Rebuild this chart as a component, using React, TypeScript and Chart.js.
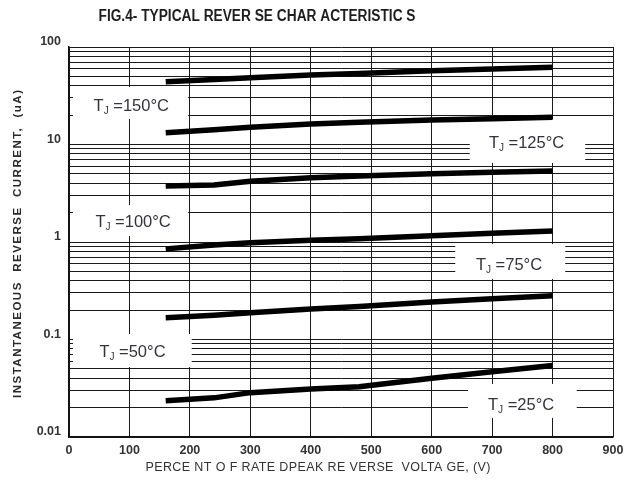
import React, { useEffect, useRef } from 'react';
import { Chart, registerables } from 'chart.js';

Chart.register(...registerables);

// ---- data ----
const VOLTAGE = [160, 240, 300, 400, 480, 600, 700, 800];
const TJ_150 = [44, 46.5, 48.5, 51.5, 53.5, 57, 59.5, 62];
const TJ_125 = [13.2, 14.2, 15, 16.2, 16.9, 17.8, 18.4, 19];
const TJ_100 = [3.75, 3.85, 4.2, 4.55, 4.75, 5.0, 5.2, 5.35];
const TJ_75 = [0.85, 0.93, 0.98, 1.04, 1.08, 1.16, 1.23, 1.3];
const TJ_50 = [0.167, 0.177, 0.188, 0.205, 0.218, 0.243, 0.262, 0.281];
const TJ_25 = [0.0236, 0.0252, 0.0285, 0.031, 0.0328, 0.04, 0.0468, 0.054];

const SERIES_NAMES = ['150°C', '125°C', '100°C', '75°C', '50°C', '25°C'];
const SERIES_VALUES = [TJ_150, TJ_125, TJ_100, TJ_75, TJ_50, TJ_25];

const X_TICKS = [0, 100, 200, 300, 400, 500, 600, 700, 800, 900];
const Y_DECADES = [0.01, 0.1, 1, 10, 100];
const Y_DECADE_LABELS = ['0.01', '0.1', '1', '10', '100'];
const Y_MULTIPLES = [1, 2, 3, 4, 5, 6, 7, 8, 9];

const TITLE = 'FIG.4- TYPICAL REVER SE CHAR ACTERISTIC S';
const X_TITLE = 'PERCE NT O F RATE DPEAK RE VERSE  VOLTA GE, (V)';
const Y_TITLE = 'INSTANTANEOUS  REVERSE  CURRENT,  (uA)';

// label placement (data units): text centre and white box [x0, x1, yTop, yBottom]
const LABEL_POS = [
  { x: 103, y: 24.8, box: [6.6, 197, 38.9, 18.3] },
  { x: 757, y: 10.3, box: [663, 854, 18.3, 6.46] },
  { x: 106, y: 1.58, box: [6.6, 197, 2.39, 1.15] },
  { x: 728, y: 0.581, box: [639, 821, 0.953, 0.418] },
  { x: 105, y: 0.0733, box: [6.6, 203, 0.1138, 0.0522] },
  { x: 748, y: 0.0213, box: [660, 840, 0.035, 0.0157] },
];

const FONT = '"Liberation Sans", Arial, sans-serif';

function fitText(ctx: CanvasRenderingContext2D, text: string, cx: number, cy: number, width: number) {
  (ctx as any).letterSpacing = '0px';
  const w = ctx.measureText(text).width;
  if (w < width && text.length > 1) {
    const ls = (width - w) / (text.length - 1);
    (ctx as any).letterSpacing = `${ls}px`;
    ctx.textAlign = 'left';
    ctx.fillText(text, cx - width / 2, cy);
  } else {
    ctx.textAlign = 'center';
    ctx.fillText(text, cx, cy, width);
  }
  (ctx as any).letterSpacing = '0px';
}

const labelPlugin = {
  id: 'tjLabels',
  beforeDatasetsDraw(chart: any) {
    const { ctx } = chart;
    const xs = chart.scales.x;
    const ys = chart.scales.y;
    ctx.save();
    LABEL_POS.forEach((l) => {
      const x0 = xs.getPixelForValue(l.box[0]);
      const x1 = xs.getPixelForValue(l.box[1]);
      const y0 = ys.getPixelForValue(l.box[2]);
      const y1 = ys.getPixelForValue(l.box[3]);
      ctx.fillStyle = '#ffffff';
      ctx.fillRect(x0, y0, x1 - x0, y1 - y0);
    });
    ctx.restore();
  },
  afterDatasetsDraw(chart: any) {
    const { ctx } = chart;
    const xs = chart.scales.x;
    const ys = chart.scales.y;
    ctx.save();
    ctx.fillStyle = '#33333d';
    ctx.textBaseline = 'middle';
    LABEL_POS.forEach((l, i) => {
      const cx = xs.getPixelForValue(l.x);
      const cy = ys.getPixelForValue(l.y);
      const big = `16.5px ${FONT}`;
      const small = `10px ${FONT}`;
      const rest = ' =' + SERIES_NAMES[i];
      ctx.font = big;
      const wT = ctx.measureText('T').width;
      const wR = ctx.measureText(rest).width;
      ctx.font = small;
      const wJ = ctx.measureText('J').width;
      const total = wT + wJ + wR;
      let px = cx - total / 2;
      ctx.textAlign = 'left';
      ctx.font = big;
      ctx.fillText('T', px, cy);
      px += wT;
      ctx.font = small;
      ctx.fillText('J', px, cy + 5);
      px += wJ;
      ctx.font = big;
      ctx.fillText(rest, px, cy);
    });
    ctx.restore();
  },
  afterDraw(chart: any) {
    const { ctx, chartArea } = chart;
    ctx.save();
    ctx.fillStyle = '#1e1e1e';
    ctx.textBaseline = 'middle';
    ctx.font = `bold 16px ${FONT}`;
    fitText(ctx, TITLE, 257, 17, 317);
    ctx.fillStyle = '#333333';
    ctx.font = `12.5px ${FONT}`;
    fitText(ctx, X_TITLE, 318, 468, 345);
    ctx.translate(18, (chartArea.top + chartArea.bottom) / 2 + 2);
    ctx.rotate(-Math.PI / 2);
    ctx.font = `bold 11.5px ${FONT}`;
    ctx.fillStyle = '#2a2a2a';
    fitText(ctx, Y_TITLE, 0, 0, 308);
    ctx.restore();
  },
};

export default function App() {
  const ref = useRef<HTMLCanvasElement | null>(null);
  useEffect(() => {
    if (!ref.current) return;
    const yGrid: number[] = [];
    Y_DECADES.forEach((d, i) => {
      if (i < Y_DECADES.length - 1) Y_MULTIPLES.forEach((m) => yGrid.push(+(d * m).toPrecision(3)));
      else yGrid.push(d);
    });
    const chart = new Chart(ref.current, {
      type: 'line',
      data: {
        labels: VOLTAGE,
        datasets: SERIES_VALUES.map((vals, i) => ({
          label: SERIES_NAMES[i],
          data: VOLTAGE.map((v, j) => ({ x: v, y: vals[j] })),
          borderColor: '#000000',
          borderWidth: 5.5,
          pointRadius: 0,
          tension: 0,
          borderCapStyle: 'butt' as const,
          borderJoinStyle: 'round' as const,
          fill: false,
        })),
      },
      options: {
        animation: false,
        responsive: false,
        layout: { padding: { left: 0, top: 47, right: 21, bottom: 0 } },
        plugins: { legend: { display: false }, tooltip: { enabled: false }, title: { display: false } },
        scales: {
          x: {
            type: 'linear',
            min: 0,
            max: 900,
            afterFit: (s: any) => { s.height = 46; },
            afterBuildTicks: (s: any) => { s.ticks = X_TICKS.map((v) => ({ value: v })); },
            grid: { color: '#1a1a1a', lineWidth: 1, drawTicks: false },
            border: { display: true, color: '#111111', width: 1.5 },
            ticks: {
              padding: 6,
              color: '#333333',
              font: { family: FONT, size: 12.5, weight: 'bold' },
              callback: (v: any) => String(v),
            },
          },
          y: {
            type: 'logarithmic',
            min: 0.01,
            max: 100,
            afterFit: (s: any) => { s.width = 69; },
            afterBuildTicks: (s: any) => { s.ticks = yGrid.map((v) => ({ value: v })); },
            grid: { color: '#1a1a1a', lineWidth: 1, drawTicks: false },
            border: { display: true, color: '#111111', width: 1.5 },
            ticks: {
              padding: 8,
              labelOffset: -5,
              autoSkip: false,
              color: '#333333',
              font: { family: FONT, size: 12.5, weight: 'bold' },
              callback: (v: any) => {
                const idx = Y_DECADES.findIndex((d) => Math.abs(d - Number(v)) < d * 1e-6);
                return idx >= 0 ? Y_DECADE_LABELS[idx] : '';
              },
            },
          },
        },
      },
      plugins: [labelPlugin],
    } as any);
    return () => chart.destroy();
  }, []);
  return (
    <div style={{ position: 'absolute', left: 0, top: 0, width: 634, height: 483, background: '#fff' }}>
      <canvas ref={ref} width={634} height={483} />
    </div>
  );
}
